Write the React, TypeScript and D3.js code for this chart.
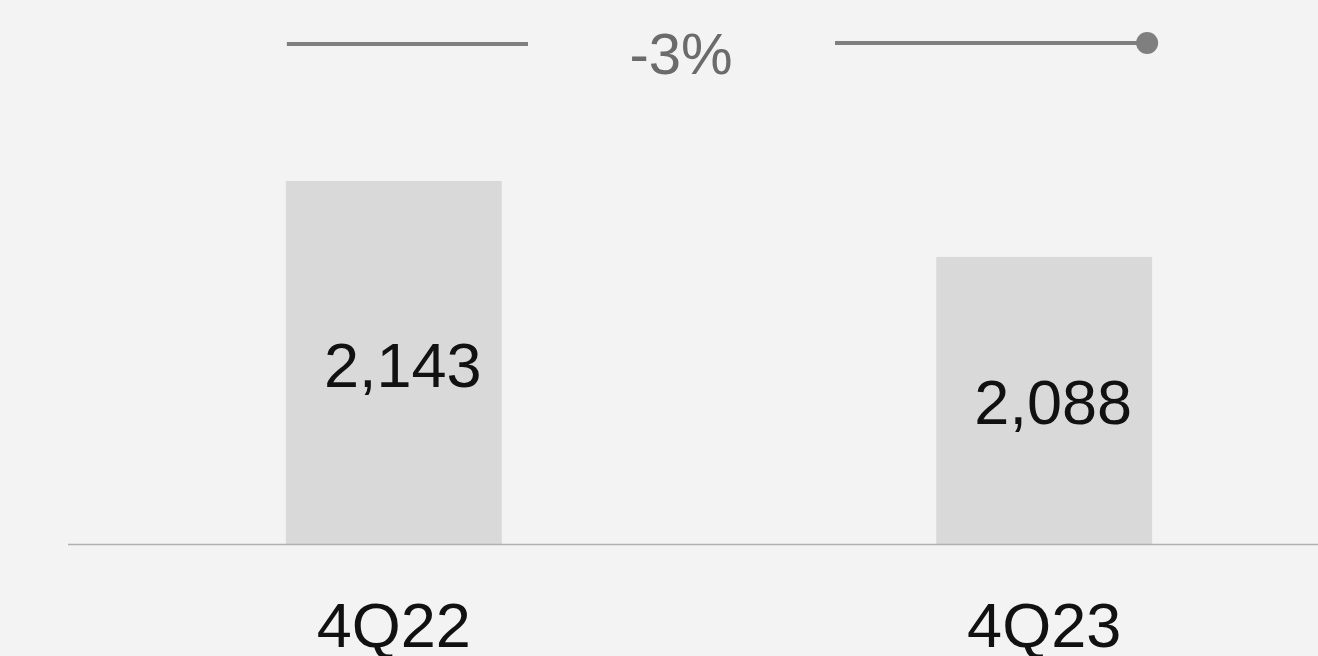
import React from "react";
import * as d3 from "d3";

const categories = ["4Q22", "4Q23"];
const values = [2143, 2088];
const valueLabels = ["2,143", "2,088"];
const changeLabel = "-3%";

const W = 1318;
const H = 656;

export default function App() {
  const x = d3
    .scaleBand<string>()
    .domain(categories)
    .range([68, 1370])
    .paddingInner(0.668)
    .paddingOuter(0.335);
  const y = d3.scaleLinear().domain([1880, 2143]).range([544, 181]);
  const bw = x.bandwidth();
  const font = "'Liberation Sans', Arial, sans-serif";

  const x1 = x(categories[0])!;
  const x2 = x(categories[1])!;
  const midX = (x1 + bw / 2 + x2 + bw / 2) / 2 - 38;
  const lineY = 44;

  return (
    <div style={{ position: "fixed", left: 0, top: 0, width: W, height: H }}>
      <svg width={W} height={H} style={{ display: "block" }}>
        <rect x={0} y={0} width={W} height={H} fill="#f3f3f3" />
        {categories.map((c, i) => (
          <g key={c}>
            <rect
              x={x(c)!}
              y={y(values[i])}
              width={bw}
              height={y(1880) - y(values[i])}
              fill="#d9d9d9"
            />
            <text
              x={x(c)! + bw / 2 + 9}
              y={(y(values[i]) + y(1880)) / 2 + 24}
              textAnchor="middle"
              fontFamily={font}
              fontSize={63}
              fill="#111"
            >
              {valueLabels[i]}
            </text>
            <text
              x={x(c)! + bw / 2}
              y={647}
              textAnchor="middle"
              fontFamily={font}
              fontSize={63}
              fill="#111"
            >
              {c}
            </text>
          </g>
        ))}
        <line x1={68} x2={W} y1={544.5} y2={544.5} stroke="#b0b0b0" strokeWidth={1.5} />
        <line x1={x1 + 1} x2={528} y1={lineY} y2={lineY} stroke="#7f7f7f" strokeWidth={4} />
        <line x1={835} x2={x2 + bw - 5} y1={lineY - 1} y2={lineY - 1} stroke="#7f7f7f" strokeWidth={4} />
        <circle cx={x2 + bw - 5} cy={lineY - 1} r={11} fill="#7f7f7f" />
        <text
          x={681}
          y={74}
          textAnchor="middle"
          fontFamily={font}
          fontSize={58}
          fill="#6b6b6b"
        >
          {changeLabel}
        </text>
      </svg>
    </div>
  );
}
